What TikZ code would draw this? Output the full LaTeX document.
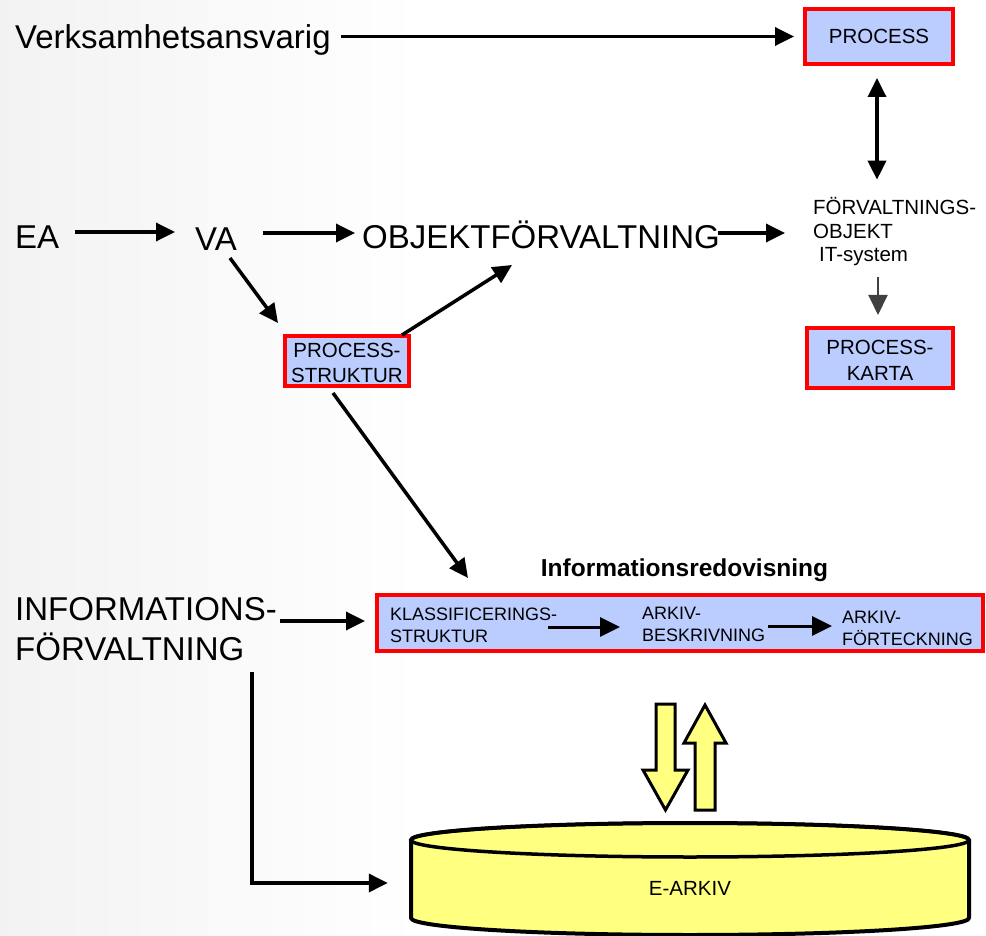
\documentclass[tikz,border=0pt]{standalone}
\usepackage{fontspec}
\setmainfont{Liberation Sans}
\usetikzlibrary{arrows.meta,calc}
\definecolor{boxblue}{RGB}{187,204,255}
\definecolor{paleyellow}{RGB}{255,255,128}
\definecolor{arrowgray}{RGB}{64,64,64}
\newcommand{\mlL}[1]{\begin{tabular}[t]{@{}l@{}}#1\end{tabular}}
\newcommand{\mlC}[1]{\begin{tabular}[t]{@{}c@{}}#1\end{tabular}}
\begin{document}
\begin{tikzpicture}[x=1pt,y=-1pt,
  bigtxt/.style={font=\fontsize{33}{40}\selectfont, inner sep=0pt, anchor=base west},
  midtxt/.style={font=\fontsize{20.5}{23.5}\selectfont, inner sep=0pt},
  smalltxt/.style={font=\fontsize{18}{22}\selectfont, inner sep=0pt, anchor=base west},
  redbox/.style={draw=red, line width=4pt, fill=boxblue, inner sep=0pt},
  arr/.style={line width=3.5pt, -{Triangle[length=19pt,width=18pt]}},
  darr/.style={line width=3.5pt, {Triangle[length=19pt,width=18pt]}-{Triangle[length=19pt,width=18pt]}},
  inarr/.style={line width=3pt, -{Triangle[length=20pt,width=19pt]}},
  grayarr/.style={line width=2pt, draw=arrowgray, -{Triangle[length=20pt,width=19pt]}},
  yarrow/.style={fill=paleyellow, draw=black, line width=3pt, line join=miter},
]
\useasboundingbox (0,0) rectangle (986,936);
\shade[left color=black!5, right color=white] (0,0) rectangle (420,936);

% text nodes
\node[bigtxt] (verk) at (15,49) {Verksamhetsansvarig};
\node[bigtxt] (ea) at (15,249) {EA};
\node[bigtxt] (va) at (195,251) {VA};
\node[bigtxt] (obj) at (362,249) {OBJEKTFÖRVALTNING};
\node[bigtxt] (infotxt) at (15,620) {\mlL{INFORMATIONS-\\FÖRVALTNING}};
\node[midtxt, anchor=base west] (forv) at (813,215) {\mlL{FÖRVALTNINGS-\\OBJEKT\\\hspace{6pt}IT-system}};

% boxes
\node[redbox, midtxt, minimum width=148pt, minimum height=55pt, text height=15pt, text depth=0pt] (process) at (879,36.5) {PROCESS};
\node[redbox, font=\fontsize{20.5}{26}\selectfont, minimum width=146pt, minimum height=60pt, text height=0pt, text depth=8pt] (karta) at (880,358) {\mlC{PROCESS-\\KARTA}};
\node[redbox, font=\fontsize{20.5}{25}\selectfont, minimum width=124pt, minimum height=50pt, text height=0pt, text depth=8pt] (ps) at (347,361) {\mlC{PROCESS-\\STRUKTUR}};
\node[redbox, minimum width=606pt, minimum height=56pt] (infobox) at (680,623) {};
\node[font=\bfseries\fontsize{24.5}{28}\selectfont, inner sep=0pt, anchor=base] (infolabel) at (684.5,576) {Informationsredovisning};
\node[smalltxt] (k1) at (390,620) {\mlL{KLASSIFICERINGS-\\STRUKTUR}};
\node[smalltxt] (k2) at (642,619) {\mlL{ARKIV-\\BESKRIVNING}};
\node[smalltxt] (k3) at (842,623) {\mlL{ARKIV-\\FÖRTECKNING}};

% cylinder
\path[fill=paleyellow, draw=black, line width=4pt, line join=round]
  (411,840) -- (411,918)
  arc[start angle=180, end angle=360, x radius=279pt, y radius=17pt]
  -- (969,840)
  arc[start angle=0, end angle=180, x radius=279pt, y radius=17pt] -- cycle;
\draw[line width=3.5pt] (690,840) ellipse [x radius=279pt, y radius=17pt];
\node[inner sep=0pt, minimum width=558pt, minimum height=112pt, text height=32pt, text depth=0pt, font=\fontsize{20.5}{24}\selectfont] (earkiv) at (690,879) {E-ARKIV};

% yellow block arrows
\draw[yarrow] (656,704) -- (675,704) -- (675,770) -- (688,770) -- (665.5,810) -- (643,770) -- (656,770) -- cycle;
\draw[yarrow] (695,810) -- (715,810) -- (715,743) -- (726,743) -- (705,705) -- (684,743) -- (695,743) -- cycle;

% connectors
\draw[arr] ($(verk.east |- process.west)+(10,0)$) -- ($(process.west)+(-9,0)$);
\draw[darr] ($(process.south)+(-2,12)$) -- ($(process.south |- forv.north)+(-2,-18)$);
\draw[arr] ($(ea.base east)+(16,-17)$) -- ($(va.base west)+(-20,-19)$);
\draw[arr] ($(va.base east)+(26,-18)$) -- ($(obj.base west)+(-7,-16)$);
\draw[arr] ($(obj.base east)+(-2,-16)$) -- ($(forv.base west)+(-28,18)$);
\draw[arr] ($(va.base west)+(35,7)$) -- ($(ps.north west)+(-5,-11)$);
\draw[arr] ($(ps.north east)+(-9,1)$) -- ($(obj.base west)+(150,16)$);
\draw[arr] ($(ps.south)+(-14,5)$) -- ($(infobox.north west)+(93,-15)$);
\draw[grayarr] ($(karta.north)+(-2,-49)$) -- ($(karta.north)+(-2,-11)$);
\draw[arr] ($(infotxt.base east)+(3,1)$) -- ($(infobox.west)+(-10,-2)$);
\draw[arr] ($(infotxt.base west)+(237,52)$) |- ($(earkiv.west)+(-23,4)$);
\draw[inarr] ($(k1.base west)+(158,7)$) -- ($(k2.base west)+(-22,8)$);
\draw[inarr] ($(k2.base west)+(126,7)$) -- ($(k3.base west)+(-10,3)$);
\end{tikzpicture}
\end{document}
